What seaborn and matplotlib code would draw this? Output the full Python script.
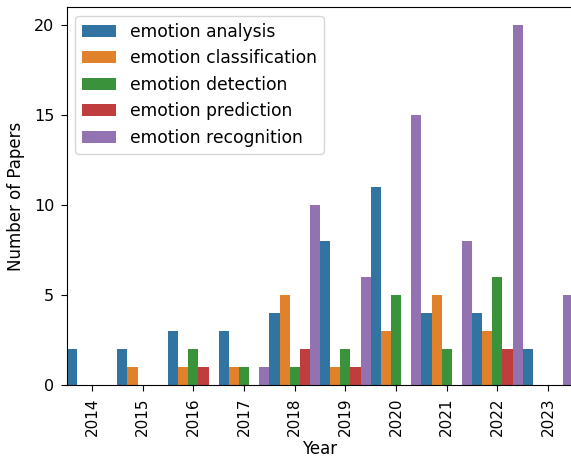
import matplotlib
matplotlib.use("Agg")
import matplotlib.pyplot as plt
import pandas as pd
import seaborn as sns

years = ["2014", "2015", "2016", "2017", "2018", "2019", "2020", "2021", "2022", "2023"]
keywords = ["emotion analysis", "emotion classification", "emotion detection",
            "emotion prediction", "emotion recognition"]

analysis = [2, 2, 3, 3, 4, 8, 11, 4, 4, 2]
classification = [0, 1, 1, 1, 5, 1, 3, 5, 3, 0]
detection = [0, 0, 2, 1, 1, 2, 5, 2, 6, 0]
prediction = [0, 0, 1, 0, 2, 1, 0, 0, 2, 0]
recognition = [0, 0, 0, 1, 10, 6, 15, 8, 20, 5]

counts = [analysis, classification, detection, prediction, recognition]
rows = []
for kw, vals in zip(keywords, counts):
    for y, v in zip(years, vals):
        rows.append({"Year": y, "Keyword": kw, "Number of Papers": v})
df = pd.DataFrame(rows)

fig = plt.figure(figsize=(5.71, 4.61), dpi=100)
# axes run slightly past the right edge, like the cropped original
ax = fig.add_axes([0.1168, 0.1649, 0.8874, 0.8193])

sns.barplot(data=df, x="Year", y="Number of Papers", hue="Keyword",
            order=years, hue_order=keywords, width=1, ax=ax)

ax.set_ylim(0, 21)
ax.set_xlim(-0.5, 9.5)
ax.set_xlabel("Year", fontsize=12, labelpad=3)
ax.set_ylabel("Number of Papers", fontsize=12, labelpad=6)
ax.tick_params(axis="x", labelrotation=90, labelsize=11, length=4, pad=5)
ax.tick_params(axis="y", labelsize=11.5, length=4, pad=5)
ax.set_yticks([0, 5, 10, 15, 20])
ax.legend(loc="upper left", fontsize=12.3)

fig.savefig("out.png", dpi=100)
